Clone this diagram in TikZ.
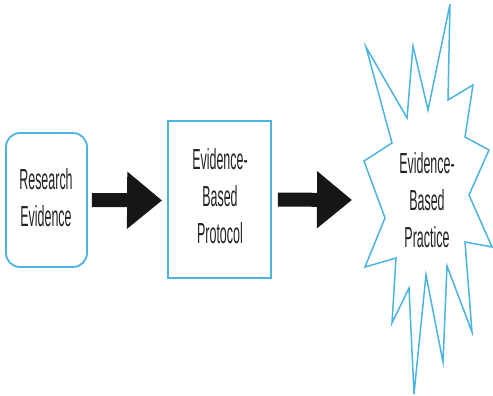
\documentclass[tikz,border=0pt]{standalone}
\usepackage{fontspec}
\newfontfamily\condfont[FakeStretch=0.43]{Liberation Sans}
\usetikzlibrary{arrows.meta,calc}
\definecolor{skyline}{RGB}{75,180,225}
\definecolor{arrowblack}{RGB}{22,22,22}
\definecolor{txtgray}{RGB}{35,35,35}
\begin{document}
\begin{tikzpicture}[x=1pt,y=-1pt,
  lbl/.style={align=center,text=txtgray,font=\condfont\fontsize{29}{37}\selectfont,inner sep=0pt},
  boxshape/.style={draw=skyline,line width=1.8pt,fill=white,inner sep=0pt},
  bigarrow/.style={draw=arrowblack,line width=14pt,-{Triangle[length=35pt,width=55pt]}}
]
\useasboundingbox (0,0) rectangle (493,396);
\fill[white] (0,0) rectangle (493,396);
% boxes
\node[boxshape,rounded corners=14pt,minimum width=81pt,minimum height=134pt] (res) at (46.5,200) {};
\node[boxshape,minimum width=103pt,minimum height=157pt] (prot) at (219.5,199.5) {};
% starburst
\draw[skyline,line width=1.5pt,line join=miter,fill=white]
  (450,4) -- (448,100) -- (473,85) -- (465,137) -- (489,150) -- (469,195)
  -- (492,247) -- (465,242) -- (472,332) -- (447,266) -- (443,362) -- (426,275)
  -- (414,394) -- (409,288) -- (392,323) -- (396,258) -- (365,267) -- (385,218)
  -- (364,161) -- (392,143) -- (366,47) -- (407,118) -- (413,46) -- (428,110) -- cycle;
% texts
\node[lbl] (restxt) at (46,197.5) {Research\\Evidence};
\node[lbl] (prottxt) at (220,196) {Evidence-\\Based\\Protocol};
\node[lbl] (startxt) at (427,200) {Evidence-\\Based\\Practice};
\coordinate (starin) at (352,200);
% arrows
\draw[bigarrow,shorten <=4pt,shorten >=5pt] (res.east) -- ($(prot.west)+(0,1)$);
\draw[bigarrow,shorten <=6pt] (prot.east) -- (starin);
\end{tikzpicture}
\end{document}
